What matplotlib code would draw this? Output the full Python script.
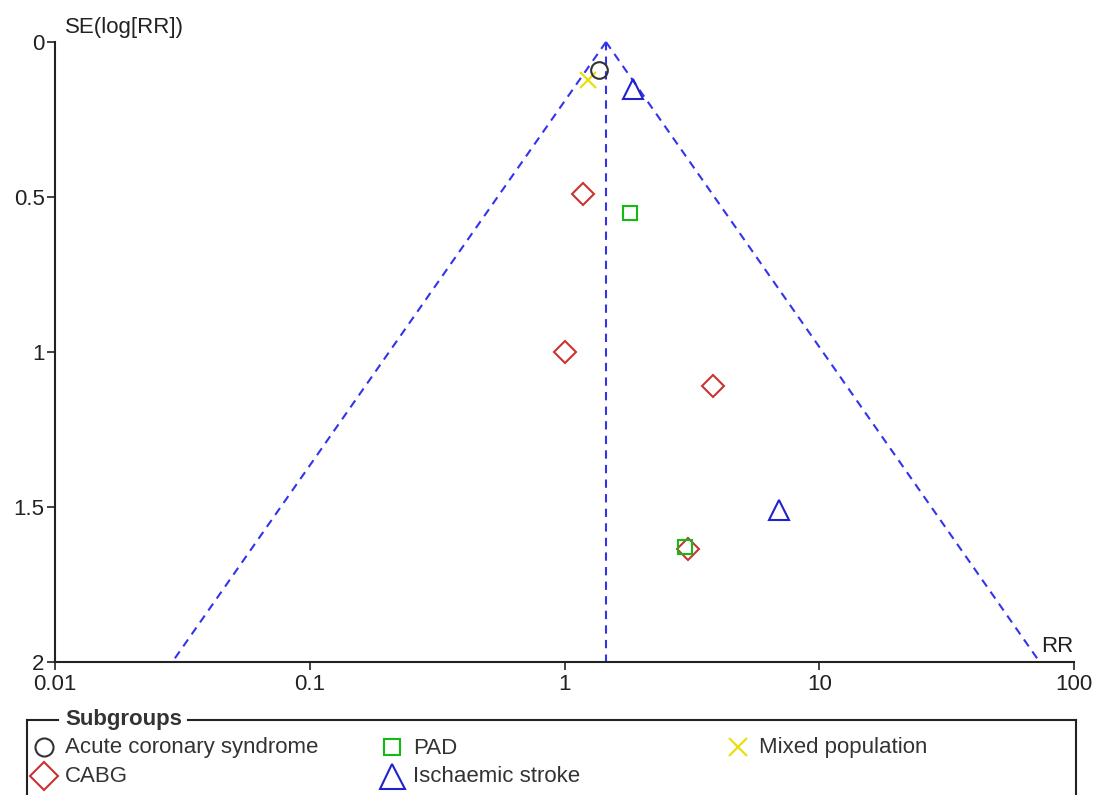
import numpy as np
import matplotlib
matplotlib.use("Agg")
import matplotlib.pyplot as plt

plt.rcParams['font.family'] = ['Liberation Sans', 'DejaVu Sans']

# ---- data ----
groups = ["Acute coronary syndrome", "PAD", "Mixed population", "CABG", "Ischaemic stroke"]
acs_rr = [1.37]
acs_se = [0.09]
pad_rr = [1.81, 2.97]
pad_se = [0.55, 1.63]
mixed_rr = [1.24]
mixed_se = [0.123]
cabg_rr = [1.18, 1.00, 3.83, 3.05]
cabg_se = [0.49, 1.00, 1.11, 1.635]
stroke_rr = [1.86, 6.95]
stroke_se = [0.15, 1.51]
pooled_rr = 1.455
se_max = 2.0
x_ticks = [0.01, 0.1, 1, 10, 100]
x_ticklabels = ["0.01", "0.1", "1", "10", "100"]
y_ticks = [0, 0.5, 1, 1.5, 2]
y_ticklabels = ["0", "0.5", "1", "1.5", "2"]

# ---- styles ----
styles = {
    "Acute coronary syndrome": dict(marker='o', color='#333333', ms=12),
    "PAD": dict(marker='s', color='#11bb11', ms=10),
    "Mixed population": dict(marker='x', color='#e8e010', ms=11),
    "CABG": dict(marker='D', color='#cc3333', ms=11),
    "Ischaemic stroke": dict(marker='^', color='#2222cc', ms=14),
}
series = {
    "Acute coronary syndrome": (acs_rr, acs_se),
    "PAD": (pad_rr, pad_se),
    "Mixed population": (mixed_rr, mixed_se),
    "CABG": (cabg_rr, cabg_se),
    "Ischaemic stroke": (stroke_rr, stroke_se),
}

FS = 16
W, H = 1095, 795
fig = plt.figure(figsize=(W / 100, H / 100), dpi=100)
ax = fig.add_axes([55 / W, (H - 662) / H, (1074 - 55) / W, (662 - 42) / H])

ax.set_xscale('log')
ax.set_xlim(x_ticks[0], x_ticks[-1])
ax.set_ylim(se_max, 0)

# funnel
se_line = np.array([0, se_max])
dash = (0, (4, 3))
fc = '#3333ee'
ax.plot([pooled_rr, pooled_rr], [0, se_max], ls=dash, color=fc, lw=1.5, clip_on=False, zorder=2)
ax.plot(pooled_rr * np.exp(-1.96 * se_line), se_line, ls=dash, color=fc, lw=1.5, clip_on=False, zorder=2)
ax.plot(pooled_rr * np.exp(1.96 * se_line), se_line, ls=dash, color=fc, lw=1.5, clip_on=False, zorder=2)

plot_order = ["CABG", "PAD", "Ischaemic stroke", "Mixed population", "Acute coronary syndrome"]
for g in plot_order:
    rr, se = series[g]
    st = styles[g]
    if st['marker'] == 'x':
        ax.plot(rr, se, ls='none', marker='x', color=st['color'], ms=st['ms'], mew=1.6, zorder=3, clip_on=False)
    else:
        ax.plot(rr, se, ls='none', marker=st['marker'], mfc='none', mec=st['color'], ms=st['ms'], mew=1.5, zorder=3, clip_on=False)

for s in ['top', 'right']:
    ax.spines[s].set_visible(False)
for s in ['left', 'bottom']:
    ax.spines[s].set_color('#222222')
    ax.spines[s].set_linewidth(1.5)

ax.set_xticks(x_ticks)
ax.set_xticklabels(x_ticklabels)
ax.xaxis.set_minor_locator(matplotlib.ticker.NullLocator())
ax.set_yticks(y_ticks)
ax.set_yticklabels(y_ticklabels)
ax.tick_params(direction='out', length=6, width=1.2, labelsize=FS, colors='#222222')
ax.tick_params(axis='x', pad=2.5)
ax.tick_params(axis='y', pad=1.5)

fig.text(65 / W, 1 - 28 / H, "SE(log[RR])", fontsize=FS, color='#222222', ha='left', va='center')
fig.text(1073 / W, 1 - 646 / H, "RR", fontsize=FS, color='#222222', ha='right', va='center')

# ---- legend (pixel coords) ----
lax = fig.add_axes([0, 0, 1, 1])
lax.set_xlim(0, W)
lax.set_ylim(H, 0)
lax.axis('off')
lax.patch.set_alpha(0)
bc = '#222222'
lax.plot([27, 27], [720, H + 5], color=bc, lw=1.5, clip_on=False)
lax.plot([1076, 1076], [720, H + 5], color=bc, lw=1.5, clip_on=False)
lax.plot([27, 58], [720, 720], color=bc, lw=1.5)
lax.plot([188, 1076], [720, 720], color=bc, lw=1.5)
lax.text(65, 720, "Subgroups", fontsize=FS, fontweight='bold', color='#333333', ha='left', va='center')

legend_order = ["Acute coronary syndrome", "PAD", "Mixed population", "CABG", "Ischaemic stroke"]
col_x = [44, 392, 738]
row_y = [747, 776]
for i, g in enumerate(legend_order):
    cx = col_x[i % 3]
    cy = row_y[i // 3]
    st = styles[g]
    ms = {'o': 13, 's': 12, 'x': 13, 'D': 14, '^': 18}[st['marker']]
    if st['marker'] == 'x':
        lax.plot([cx], [cy], marker='x', color=st['color'], ms=ms, mew=1.6, ls='none')
    else:
        lax.plot([cx], [cy], marker=st['marker'], mfc='none', mec=st['color'], ms=ms, mew=1.5, ls='none')
    lax.text(cx + 21, cy + 1, g, fontsize=FS, color='#333333', ha='left', va='center')

fig.savefig("out.png", dpi=100, facecolor='white')
